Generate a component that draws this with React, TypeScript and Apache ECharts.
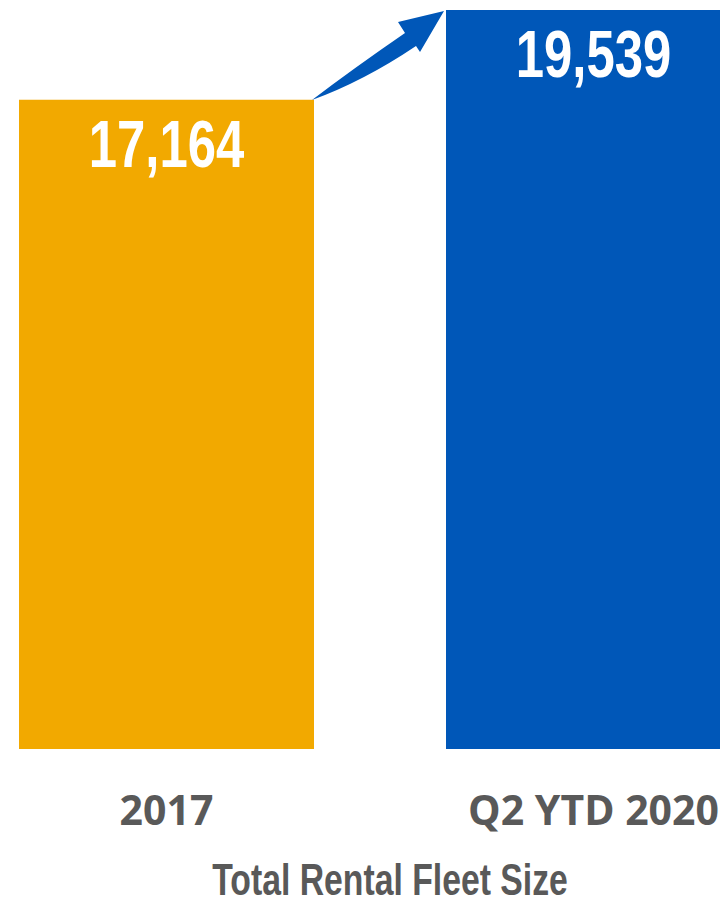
import React, { useEffect, useRef } from "react";
import * as echarts from "echarts";

const categories = ["2017", "Q2 YTD 2020"];
const fleetValues = [17164, 19539];
const barColors = ["#F2A900", "#0057B8"];
const axisTitle = "Total Rental Fleet Size";

const arrowPath =
  "M 312 100 Q 354 68 405 33 L 398 22 L 444 11 L 420 52 L 416 46 Q 364 81 312 100 Z";

let registered = false;
function ensureShape() {
  if (registered) return;
  echarts.graphic.registerShape("growArrow", echarts.graphic.extendPath(arrowPath, {}) as any);
  registered = true;
}

const OFFSET = 47;

export default function App() {
  const ref = useRef<HTMLDivElement>(null);
  useEffect(() => {
    if (!ref.current) return;
    ensureShape();
    const chart = echarts.init(ref.current, undefined, { renderer: "svg" });
    chart.setOption({
      animation: false,
      grid: { left: 0, right: 0, top: 10, bottom: 149, containLabel: false },
      xAxis: {
        type: "category",
        data: categories,
        axisLine: { show: false },
        axisTick: { show: false },
        axisLabel: {
          color: "#595959",
          fontFamily: "Open Sans",
          fontWeight: "bold",
          fontSize: 41,
          margin: 39,
        },
      },
      yAxis: {
        type: "value",
        min: 0,
        max: 19539,
        show: false,
        splitLine: { show: false },
      },
      series: [
        {
          type: "bar",
          barWidth: 295,
          data: fleetValues.map((v, i) => ({ value: v, itemStyle: { color: barColors[i] } })),
        },
        {
          type: "custom",
          z: 5,
          data: fleetValues.map((v, i) => [i, v]),
          encode: { x: 0, y: 1 },
          renderItem: (params: any, api: any) => {
            const idx = api.value(0);
            const val = api.value(1);
            const pt = api.coord([idx, val]);
            return {
              type: "text",
              x: pt[0],
              y: pt[1] + 11,
              scaleX: 0.77,
              style: {
                text: Number(val).toLocaleString("en-US"),
                fill: "#FFFFFF",
                font: "bold 66px 'Liberation Sans', Arial, sans-serif",
                align: "center",
                verticalAlign: "top",
              },
            };
          },
        },
      ],
      graphic: [
        {
          type: "group",
          x: OFFSET,
          y: 0,
          children: [
            {
              type: "growArrow",
              x: 0,
              y: 0,
              style: { fill: "#0057B8" },
              z: 100,
            },
            {
              type: "text",
              x: 390,
              y: 879,
              scaleX: 0.75,
              style: {
                text: axisTitle,
                fill: "#595959",
                font: "bold 45px 'Liberation Sans', Arial, sans-serif",
                lineHeight: 30,
                align: "center",
                verticalAlign: "middle",
              },
            },
          ],
        },
      ],
    });
    return () => chart.dispose();
  }, []);
  return (
    <div
      style={{ position: "absolute", left: 0, top: 0, width: 720, height: 898, overflow: "hidden" }}
    >
      <div
        ref={ref}
        style={{ position: "absolute", left: -OFFSET, top: 0, width: 854, height: 898 }}
      />
    </div>
  );
}
